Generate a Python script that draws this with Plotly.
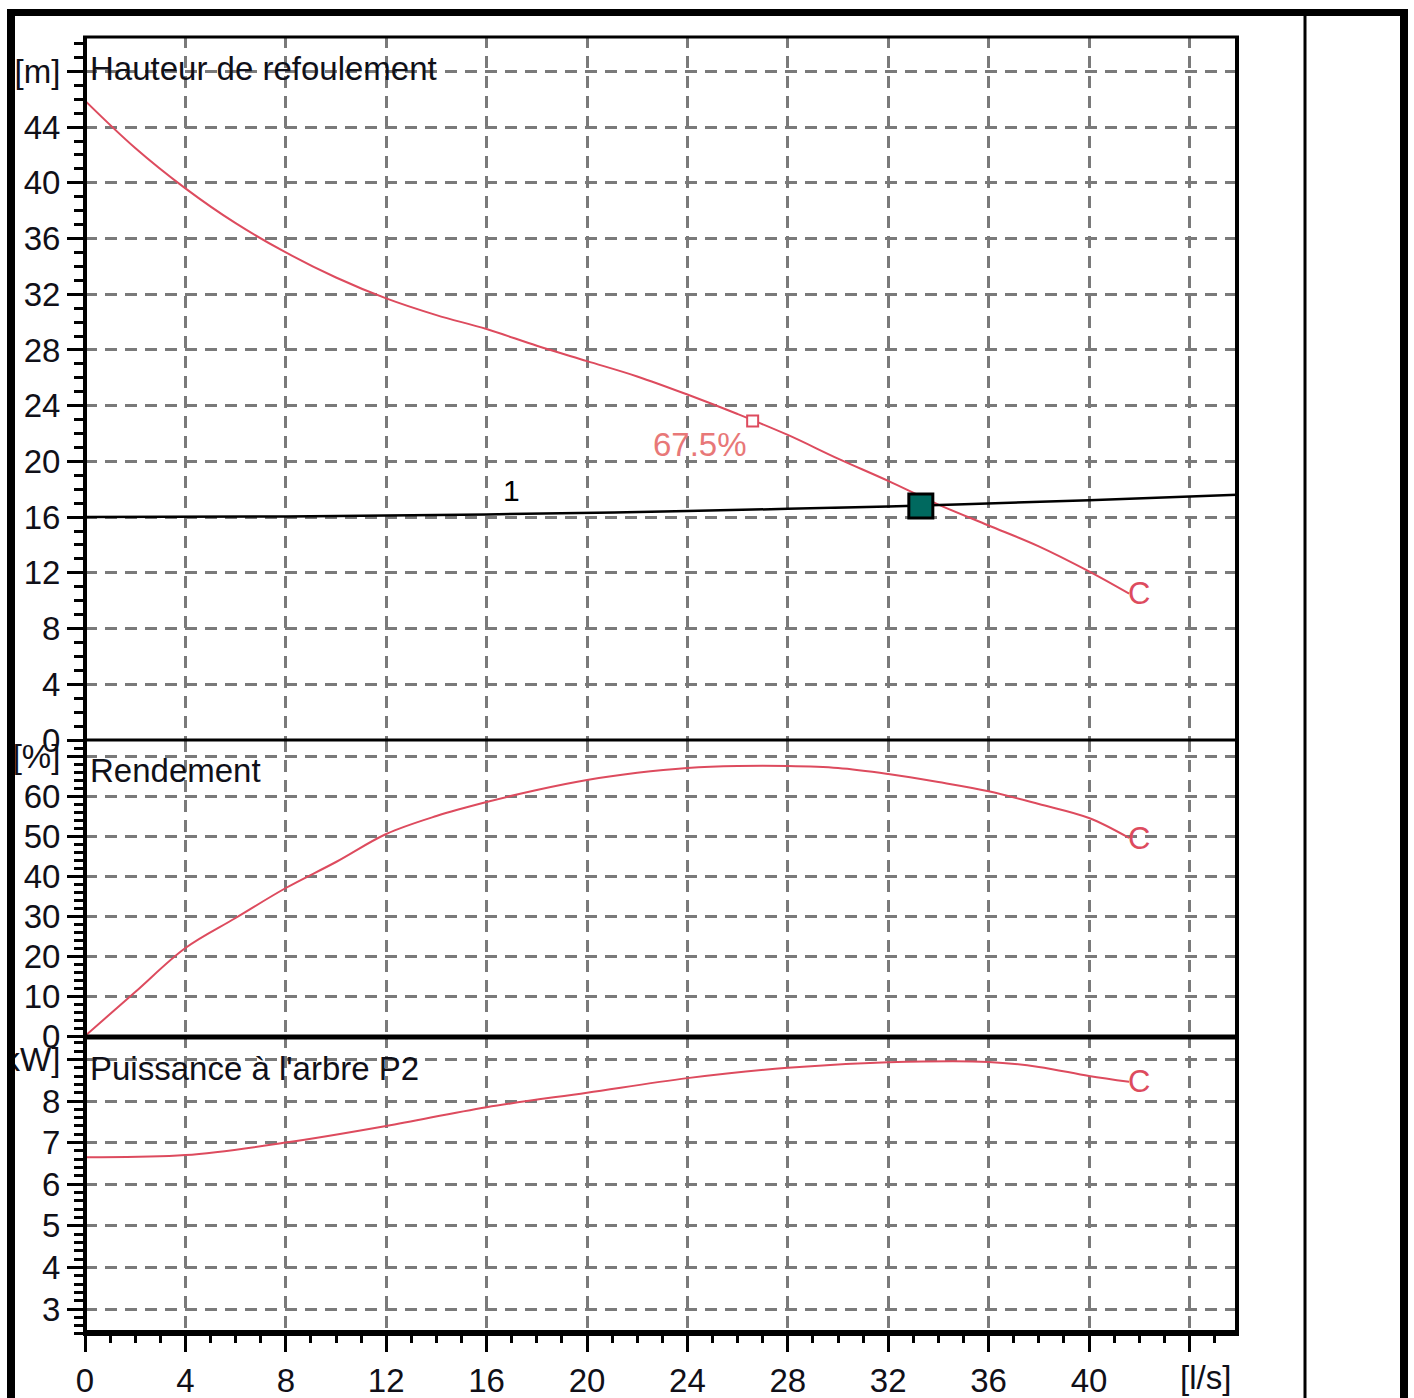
import plotly.graph_objects as go

# ---------------- data ----------------
Q_head = [0, 2, 4, 6, 8, 10, 12, 14, 16, 18, 20, 22, 24, 26, 28, 30, 32, 34, 36, 38, 40, 41.6]
H_head = [45.9, 42.5, 39.6, 37.1, 35.0, 33.2, 31.7, 30.5, 29.5, 28.3, 27.2, 26.1, 24.8, 23.4,
          21.9, 20.2, 18.6, 16.9, 15.4, 13.9, 12.1, 10.5]

Q_sys = [0, 8, 16, 24, 32, 40, 45.9]
H_sys = [16.0, 16.05, 16.19, 16.44, 16.77, 17.21, 17.6]

Q_eff = [0, 2, 4, 6, 8, 10, 12, 14, 16, 18, 20, 22, 24, 26, 28, 30, 32, 34, 36, 38, 40, 41.6]
Eff = [0, 11, 22, 29.5, 37, 43.5, 50.5, 55, 58.5, 61.5, 64, 65.8, 67, 67.5, 67.5, 67, 65.5,
       63.5, 61.2, 58, 54.5, 49.5]

Q_pow = [0, 4, 8, 12, 16, 20, 24, 28, 32, 36, 38, 40, 41.6]
P2 = [6.65, 6.7, 7.0, 7.4, 7.85, 8.2, 8.55, 8.8, 8.93, 8.94, 8.82, 8.6, 8.46]

Q_op, H_op = [33.3], [16.8]
Q_bep, H_bep = [26.6], [22.9]
bep_label = "67.5%"

x_ticks = [0, 4, 8, 12, 16, 20, 24, 28, 32, 36, 40, 44]
x_ticktext = ["0", "4", "8", "12", "16", "20", "24", "28", "32", "36", "40", ""]
h_ticks = [0, 4, 8, 12, 16, 20, 24, 28, 32, 36, 40, 44, 48]
h_ticktext = ["0", "4", "8", "12", "16", "20", "24", "28", "32", "36", "40", "44", "[m]"]
e_ticks = [0, 10, 20, 30, 40, 50, 60, 70]
e_ticktext = ["0", "10", "20", "30", "40", "50", "60", "[%]"]
p_ticks = [3, 4, 5, 6, 7, 8, 9]
p_ticktext = ["3", "4", "5", "6", "7", "8", "[kW]"]

# ---------------- styling ----------------
W, H = 1414, 1398
L, R, T, B = 85, 1237, 36, 1334
RED = "#dd4b5e"
FONT = "Liberation Sans, Arial, sans-serif"
GRID = dict(showgrid=True, gridcolor="#7a7a7a", gridwidth=2.5, griddash="12px,8px", zeroline=False,
            automargin=False)


def px(x):
    return (x - L) / (R - L)


def py(y):
    return (B - y) / (B - T)


fig = go.Figure()
fig.add_trace(go.Scatter(x=Q_head, y=H_head, mode="lines", line=dict(color=RED, width=2, shape="spline"),
                         xaxis="x", yaxis="y"))
fig.add_trace(go.Scatter(x=Q_sys, y=H_sys, mode="lines", line=dict(color="black", width=2.5, shape="spline"),
                         xaxis="x", yaxis="y"))
fig.add_trace(go.Scatter(x=Q_bep, y=H_bep, mode="markers",
                         marker=dict(symbol="square", size=11, color="white", line=dict(color=RED, width=2)),
                         xaxis="x", yaxis="y"))
fig.add_trace(go.Scatter(x=Q_op, y=H_op, mode="markers",
                         marker=dict(symbol="square", size=24, color="#00695f", line=dict(color="black", width=3)),
                         xaxis="x", yaxis="y"))
fig.add_trace(go.Scatter(x=Q_eff, y=Eff, mode="lines", line=dict(color=RED, width=2, shape="spline"),
                         xaxis="x2", yaxis="y2"))
fig.add_trace(go.Scatter(x=Q_pow, y=P2, mode="lines", line=dict(color=RED, width=2, shape="spline"),
                         xaxis="x3", yaxis="y3"))

tickfont = dict(family=FONT, size=33, color="#101018")
xr = [0, (R - L) / 25.1]

xcommon = dict(range=xr, tickmode="array", tickvals=x_ticks, fixedrange=True, **GRID)
fig.update_layout(
    width=W, height=H,
    margin=dict(l=L, r=W - R, t=T, b=H - B, pad=0, autoexpand=False),
    paper_bgcolor="white", plot_bgcolor="white",
    showlegend=False,
    xaxis=dict(domain=[0, 1], anchor="y", showticklabels=False, ticks="", **xcommon),
    xaxis2=dict(domain=[0, 1], anchor="y2", showticklabels=False, ticks="", **xcommon),
    xaxis3=dict(domain=[0, 1], anchor="y3", ticktext=x_ticktext, ticks="outside", ticklen=17,
                tickwidth=3, tickcolor="black", tickfont=tickfont,
                minor=dict(dtick=1, tick0=0, ticks="outside", ticklen=8, tickwidth=3, tickcolor="black",
                           showgrid=False),
                **xcommon),
    yaxis=dict(domain=[py(740), 1], anchor="x", range=[0, (740 - T) / 13.93], tickmode="array",
               tickvals=h_ticks, ticktext=h_ticktext, ticks="outside", ticklen=17, tickwidth=3,
               tickcolor="black", tickfont=tickfont, fixedrange=True,
               minor=dict(dtick=1, tick0=0, ticks="outside", ticklen=10, tickwidth=3, tickcolor="black",
                          showgrid=False), **GRID),
    yaxis2=dict(domain=[py(1036), py(740)], anchor="x2", range=[0, 74], tickmode="array",
                tickvals=e_ticks, ticktext=e_ticktext, ticks="outside", ticklen=17, tickwidth=3,
                tickcolor="black", tickfont=tickfont, fixedrange=True,
                minor=dict(dtick=2, tick0=0, ticks="outside", ticklen=10, tickwidth=3, tickcolor="black",
                           showgrid=False), **GRID),
    yaxis3=dict(domain=[0, py(1036)], anchor="x3", range=[3 - 25 / 41.6, 8 + 65 / 41.6], tickmode="array",
                tickvals=p_ticks, ticktext=p_ticktext, ticks="outside", ticklen=17, tickwidth=3,
                tickcolor="black", tickfont=tickfont, fixedrange=True,
                minor=dict(dtick=0.2, tick0=0, ticks="outside", ticklen=10, tickwidth=3, tickcolor="black",
                           showgrid=False), **GRID),
)

# ---------------- frame lines ----------------
def hline(y, x0, x1, w):
    fig.add_shape(type="line", xref="paper", yref="paper", x0=px(x0), x1=px(x1), y0=py(y), y1=py(y),
                  line=dict(color="black", width=w), layer="above")


def vline(x, y0, y1, w):
    fig.add_shape(type="line", xref="paper", yref="paper", x0=px(x), x1=px(x), y0=py(y0), y1=py(y1),
                  line=dict(color="black", width=w), layer="above")


# white strip at far left (clips labels outside the outer frame)
fig.add_shape(type="rect", xref="paper", yref="paper", x0=px(-20), x1=px(7), y0=py(H + 20), y1=py(-20),
              fillcolor="white", line=dict(width=0), layer="above")

hline(12.5, 7, 1408, 7)
vline(11, 9, H + 10, 8)
vline(1404, 9, H + 10, 8)
vline(1305, 14, H + 10, 3)
hline(37, L - 2, R + 2, 3)
vline(L, T, B + 1, 4)
vline(R, T, B + 1, 4)
hline(740, L, R, 3)
hline(1037, L, R, 5)
hline(1333, L - 2, R + 2, 6)

# ---------------- text ----------------
tfont = dict(family=FONT, size=33, color="#101018")
ann = [
    dict(text="Hauteur de refoulement", xref="paper", yref="paper", x=px(88), y=py(68)),
    dict(text="Rendement", xref="paper", yref="paper", x=px(88), y=py(770)),
    dict(text="Puissance à l'arbre P2", xref="paper", yref="paper", x=px(88), y=py(1068)),
]
for a in ann:
    fig.add_annotation(xanchor="left", yanchor="middle", showarrow=False, font=tfont, **a)

fig.add_annotation(text="[l/s]", xref="paper", yref="paper", x=px(1205), y=py(1378), showarrow=False,
                   xanchor="center", yanchor="middle", font=tfont)
fig.add_annotation(text="1", xref="x", yref="y", x=17.0, y=17.9, showarrow=False,
                   font=dict(family=FONT, size=30, color="black"))
fig.add_annotation(text=bep_label, xref="x", yref="y", x=24.5, y=21.2, showarrow=False,
                   font=dict(family=FONT, size=33, color="#e87878"))
cfont = dict(family=FONT, size=31, color=RED)
fig.add_annotation(text="C", xref="x", yref="y", x=Q_head[-1], y=H_head[-1], xanchor="left",
                   showarrow=False, font=cfont, xshift=-3)
fig.add_annotation(text="C", xref="x2", yref="y2", x=Q_eff[-1], y=Eff[-1], xanchor="left",
                   showarrow=False, font=cfont, xshift=-3)
fig.add_annotation(text="C", xref="x3", yref="y3", x=Q_pow[-1], y=P2[-1], xanchor="left",
                   showarrow=False, font=cfont, xshift=-3)

fig.write_html("out.html", config={"displayModeBar": False},
               post_script="document.body.style.margin='0px';")
